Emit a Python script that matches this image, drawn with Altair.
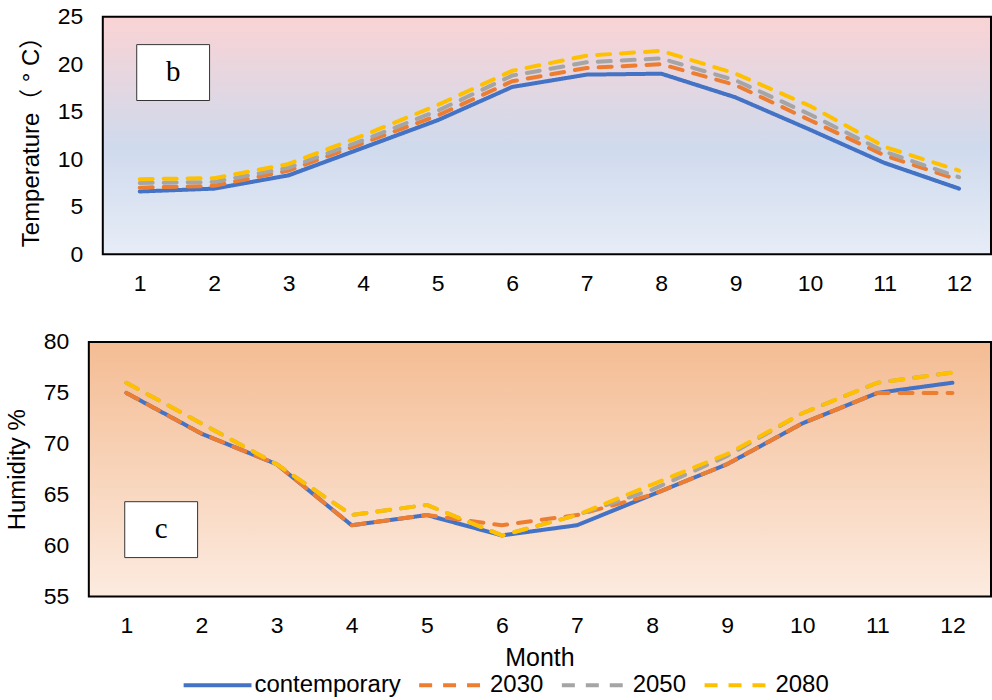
import altair as alt
import pandas as pd

months = list(range(1, 13))
series_names = ["contemporary", "2030", "2050", "2080"]
series_colors = ["#4472C4", "#ED7D31", "#A5A5A5", "#FFC000"]
series_dashes = [[1, 0], [13, 11], [13, 11], [13, 11]]

temp_contemporary = [6.6, 6.9, 8.3, 11.2, 14.1, 17.6, 18.9, 19.0, 16.5, 13.1, 9.6, 6.9]
temp_2030 = [7.0, 7.2, 8.8, 11.7, 14.6, 18.2, 19.6, 20.0, 17.8, 14.1, 10.4, 7.8]
temp_2050 = [7.5, 7.6, 9.1, 12.0, 15.1, 18.8, 20.2, 20.6, 18.3, 14.7, 10.8, 8.1]
temp_2080 = [7.9, 8.0, 9.5, 12.5, 15.7, 19.3, 20.9, 21.4, 19.0, 15.6, 11.3, 8.8]

hum_contemporary = [75, 71, 68, 62, 63, 61, 62, 65, 68, 72, 75, 76]
hum_2030 = [75, 71, 68, 62, 63, 62, 63, 65, 68, 72, 75, 75]
hum_2050 = [76, 72, 68, 63, 64, 61, 63, 65.5, 68.8, 73, 76, 77]
hum_2080 = [76, 72, 68, 63, 64, 61, 63, 66, 69, 73, 76, 77]

temp_ticks = [0, 5, 10, 15, 20, 25]
hum_ticks = [55, 60, 65, 70, 75, 80]

FONT = "Liberation Sans, Arial, Noto Sans CJK SC"
W = 903


def long_df(series_lists):
    rows = []
    for name, vals in zip(series_names, series_lists):
        for m, v in zip(months, vals):
            rows.append({"month": m, "value": v, "series": name})
    return pd.DataFrame(rows)


df_temp = long_df([temp_contemporary, temp_2030, temp_2050, temp_2080])
df_hum = long_df([hum_contemporary, hum_2030, hum_2050, hum_2080])


def gradient(stops):
    return alt.Gradient(
        gradient="linear", x1=0, x2=0, y1=0, y2=1,
        stops=[alt.GradientStop(offset=o, color=c) for o, c in stops],
    )


def panel(df, ydomain, yvals, ytitle, height, xrange, xtitle, yoffset,
          bg_left, bg_stops, box, label):
    xscale = dict(domain=[0.5, 12.5], nice=False, zero=False)
    if xrange is not None:
        xscale["range"] = xrange
    xaxis = dict(values=months, format="d", labelFontSize=23, labelPadding=18,
                 titleFontSize=25, titlePadding=8)
    xaxis["title"] = xtitle if xtitle is not None else ""
    x = alt.X("month:Q", scale=alt.Scale(**xscale), axis=alt.Axis(**xaxis))
    y = alt.Y("value:Q",
              scale=alt.Scale(domain=ydomain, nice=False, zero=False),
              axis=alt.Axis(values=yvals, title=ytitle, offset=yoffset,
                            labelFontSize=23, labelPadding=20,
                            titleFontSize=24, titlePadding=14))

    bg = alt.Chart(pd.DataFrame({"k": [0]})).mark_rect(
        fill=gradient(bg_stops), stroke="black", strokeWidth=2
    ).encode(x=alt.value(bg_left), x2=alt.value(W + 1),
             y=alt.value(0), y2=alt.value(height))

    lines = []
    for name in series_names:
        lines.append(
            alt.Chart(df).transform_filter(alt.datum.series == name)
            .mark_line(strokeWidth=4, strokeCap="round", strokeJoin="round")
            .encode(
                x=x, y=y,
                color=alt.Color("series:N",
                                scale=alt.Scale(domain=series_names, range=series_colors),
                                title=None),
                strokeDash=alt.StrokeDash("series:N",
                                          scale=alt.Scale(domain=series_names,
                                                          range=series_dashes),
                                          title=None),
            )
        )

    bx0, bx1, by0, by1 = box
    boxrect = alt.Chart(pd.DataFrame({"k": [0]})).mark_rect(
        fill="white", stroke="#333333", strokeWidth=1
    ).encode(x=alt.value(bx0), x2=alt.value(bx1), y=alt.value(by0), y2=alt.value(by1))
    boxtext = alt.Chart(pd.DataFrame({"t": [label]})).mark_text(
        font="Liberation Serif", fontSize=29, color="black", baseline="middle", align="center"
    ).encode(x=alt.value((bx0 + bx1) / 2), y=alt.value((by0 + by1) / 2 - 1), text="t:N")

    return alt.layer(bg, *lines, boxrect, boxtext).properties(width=W, height=height)


top = panel(df_temp, [0, 25], temp_ticks, "Temperature（ ° C）", 238,
            [13.7, 909.3], None, -14, 14,
            [(0, "#FAD3D4"), (0.55, "#CFDAED"), (1, "#E7EDF7")],
            (48, 121, 28, 84), "b")

bottom = panel(df_hum, [55, 80], hum_ticks, "Humidity %", 255,
               None, "Month", 0, 0,
               [(0, "#F4BC93"), (1, "#FCEBE0")],
               (36, 109, 160, 216), "c")

chart = alt.vconcat(top, bottom, spacing=36).properties(
    padding={"left": 5, "top": 5, "right": 0, "bottom": 0}
).configure_view(stroke=None).configure_axis(
    grid=False, domain=False, ticks=False, tickSize=0,
    labelFont=FONT, titleFont=FONT, labelColor="black", titleColor="black",
    titleFontWeight="normal",
).configure_legend(
    orient="none", legendX=93, legendY=634, direction="horizontal",
    symbolType="stroke", symbolSize=4624, symbolStrokeWidth=4,
    labelFont=FONT, labelFontSize=24, labelColor="black",
    labelOffset=1, columnPadding=10, title=None,
)

chart.save("out.html", embed_options={"renderer": "svg", "actions": False})
